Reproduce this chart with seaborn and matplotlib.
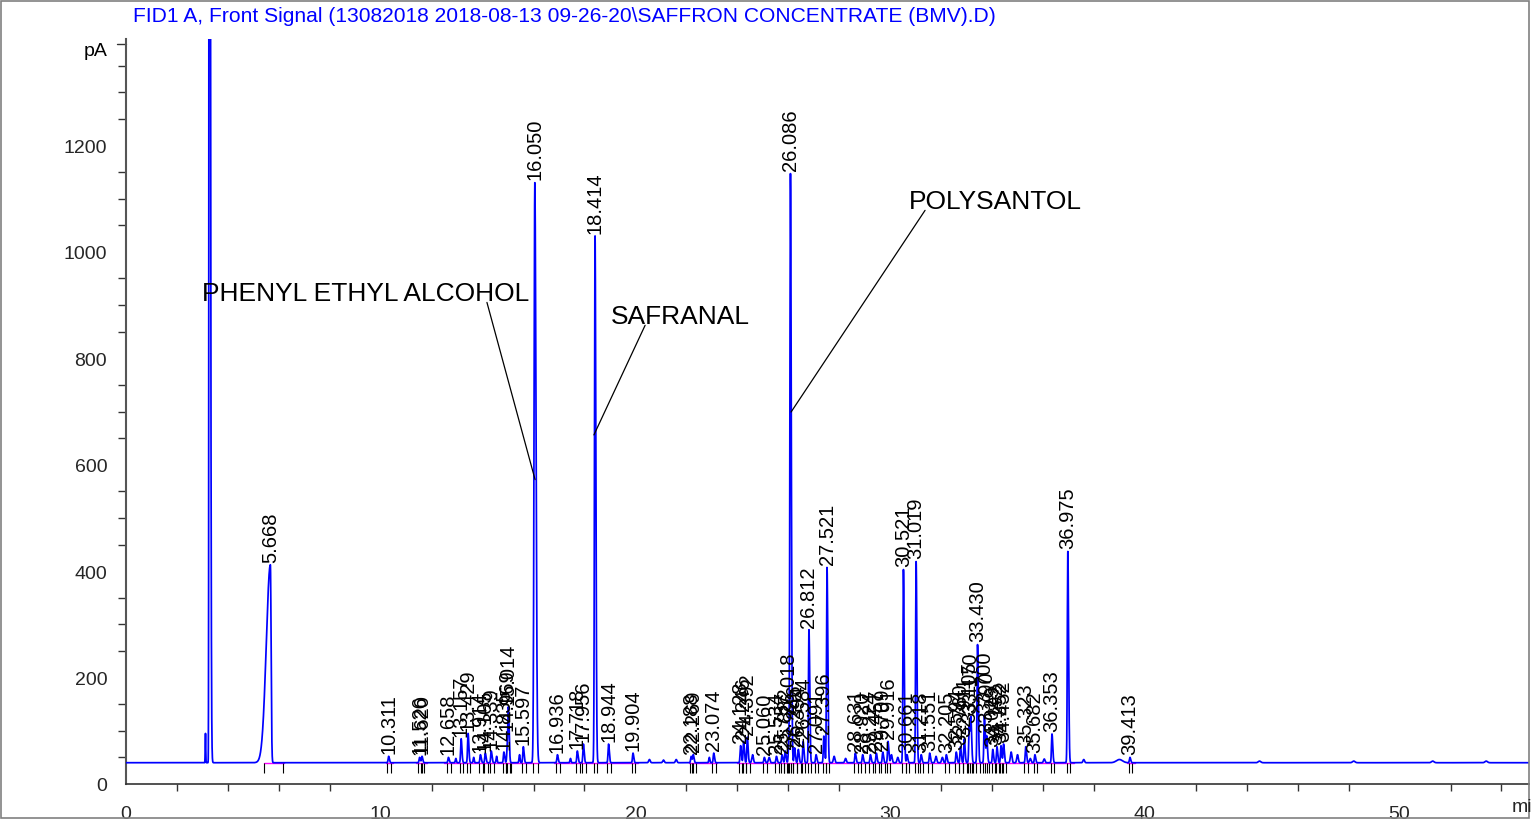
import numpy as np
import pandas as pd
import matplotlib
matplotlib.use("Agg")
import matplotlib.pyplot as plt
import seaborn as sns
from matplotlib.patches import Rectangle

# ---------------- data ----------------
title = r"FID1 A, Front Signal (13082018 2018-08-13 09-26-20\SAFFRON CONCENTRATE (BMV).D)"
baseline = 40.0

# labelled peaks: retention time (min), apex (pA), left / right width (min)
peak_rt = [10.311, 11.526, 11.620, 12.658, 13.157, 13.429, 13.914, 14.105, 14.339,
           14.835, 14.969, 15.014, 15.597, 16.050, 16.936, 17.718, 17.956, 18.414,
           18.944, 19.904, 22.188, 22.269, 23.074, 24.128, 24.246, 24.392, 25.060,
           25.534, 25.757, 25.882, 26.018, 26.086, 26.246, 26.394, 26.584, 26.812,
           27.091, 27.396, 27.521, 28.631, 28.920, 29.224, 29.457, 29.709, 29.916,
           30.521, 30.661, 31.019, 31.218, 31.551, 32.205, 32.594, 32.760, 32.911,
           33.105, 33.170, 33.430, 33.700, 33.790, 34.029, 34.192, 34.352, 34.452,
           35.323, 35.682, 36.353, 36.975, 39.413]
peak_apex = [52, 50, 52, 50, 85, 95, 55, 58, 62,
             60, 70, 135, 70, 1130, 55, 62, 75, 1030,
             75, 58, 52, 55, 58, 72, 80, 88, 50,
             52, 55, 62, 70, 1145, 68, 65, 80, 290,
             55, 90, 407, 58, 55, 55, 58, 60, 80,
             403, 55, 418, 55, 58, 55, 60, 70, 85,
             110, 120, 262, 130, 90, 65, 70, 72, 75,
             70, 55, 94, 437, 50]
peak_wl = [0.02] * len(peak_rt)
peak_wr = [0.03] * len(peak_rt)
peak_label = ["%.3f" % r for r in peak_rt]

# unlabelled features: solvent front, 5.668 peak (labelled below), small bumps
extra_rt = [3.12, 3.27, 5.668, 12.95, 13.65, 14.55, 15.45, 17.45, 20.55, 21.1, 21.6,
            22.9, 24.6, 25.25, 27.8, 28.25, 30.05, 30.3, 31.8, 32.05, 34.75, 35.0,
            35.5, 36.05, 37.6, 39.0, 44.5, 48.2, 51.3, 53.4]
extra_apex = [95, 4000, 412, 48, 50, 52, 55, 48, 46, 45, 46,
              50, 55, 50, 52, 48, 55, 50, 52, 50, 60, 55,
              48, 47, 46, 46, 43, 43, 43, 43]
extra_wl = [0.01, 0.012, 0.16, 0.02, 0.02, 0.02, 0.02, 0.02, 0.03, 0.03, 0.03,
            0.02, 0.03, 0.03, 0.03, 0.03, 0.03, 0.03, 0.03, 0.03, 0.03, 0.03,
            0.03, 0.03, 0.03, 0.12, 0.05, 0.05, 0.05, 0.05]
extra_wr = [0.01, 0.035, 0.028, 0.02, 0.02, 0.02, 0.02, 0.02, 0.03, 0.03, 0.03,
            0.02, 0.03, 0.03, 0.03, 0.03, 0.03, 0.03, 0.03, 0.03, 0.03, 0.03,
            0.03, 0.03, 0.03, 0.12, 0.05, 0.05, 0.05, 0.05]

# annotated compounds: name, text anchor (min, pA), leader line start/end (min, pA)
comp_name = ["PHENYL ETHYL ALCOHOL", "SAFRANAL", "POLYSANTOL"]
comp_text_xy = [(3.0, 922), (19.05, 879), (30.75, 1096)]
comp_line_start = [(14.17, 905), (20.38, 862), (31.37, 1078)]
comp_line_end = [(16.06, 572), (18.37, 656), (26.11, 699)]

x_ticks = [0, 10, 20, 30, 40, 50]
y_ticks = [0, 200, 400, 600, 800, 1000, 1200]

# ---------------- build trace ----------------
all_rt = np.array(peak_rt + extra_rt)
all_h = np.array(peak_apex + extra_apex, dtype=float) - baseline
all_wl = np.array(peak_wl + extra_wl)
all_wr = np.array(peak_wr + extra_wr)
for i, r in enumerate(all_rt):
    if abs(r - 16.050) < 1e-6:
        all_wl[i], all_wr[i] = 0.03, 0.045
    if abs(r - 18.414) < 1e-6 or abs(r - 26.086) < 1e-6:
        all_wl[i], all_wr[i] = 0.022, 0.032

t = np.linspace(0, 55.2, 40000)
sig = np.full_like(t, baseline)
for r, h, wl, wr in zip(all_rt, all_h, all_wl, all_wr):
    w = np.where(t < r, wl, wr)
    sig += h * np.exp(-0.5 * ((t - r) / w) ** 2)
df = pd.DataFrame({"time": t, "signal": sig})

# ---------------- figure ----------------
sns.set_style("white")
plt.rcParams["font.family"] = ["Liberation Sans", "DejaVu Sans"]
fig = plt.figure(figsize=(15.31, 8.20), dpi=100)
ax = fig.add_axes([126 / 1531, 35 / 820, 1403 / 1531, 745 / 820])

# magenta baselines
for a, b in [(5.4, 6.2), (10.2, 10.5), (11.4, 11.8), (12.5, 16.2), (16.8, 20.1),
             (22.1, 23.2), (24.0, 37.2), (39.3, 39.6)]:
    ax.plot([a, b], [baseline - 0.8, baseline - 0.8], color="#ff00ff", lw=1.0, zorder=1)

sns.lineplot(data=df, x="time", y="signal", ax=ax, color="#0000ff", lw=1.25,
             estimator=None, sort=False, zorder=3)

# integration markers
mk = []
for i, r in enumerate(peak_rt):
    mk += [r - 2.5 * all_wl[i], r + 3 * all_wr[i]]
mk += [5.40, 6.16]
ax.vlines(mk, 20, 39, color="black", lw=0.8, zorder=2)

# peak labels
labels_rt = peak_rt + [5.668]
labels_txt = peak_label + ["5.668"]
for r, s in zip(labels_rt, labels_txt):
    m = (t > r - 0.015) & (t < r + 0.015)
    ap = sig[m].max()
    ax.text(r, ap + 6, s, rotation=90, ha="center", va="bottom", fontsize=14.5,
            color="black", zorder=4)

# compound annotations
for name, (tx, ty), (x0, y0), (x1, y1) in zip(comp_name, comp_text_xy, comp_line_start, comp_line_end):
    ax.text(tx, ty, name, ha="left", va="center", fontsize=19, color="black", zorder=5)
    ax.plot([x0, x1], [y0, y1], color="black", lw=0.9, zorder=5)

ax.set_xlim(0, 55.08)
ax.set_ylim(0, 1400)
ax.set_xticks(x_ticks)
ax.set_xticklabels([str(v) for v in x_ticks])
ax.set_xticks(np.arange(0, 55, 2), minor=True)
ax.set_yticks(y_ticks)
ax.set_yticklabels([str(v) for v in y_ticks])
ax.set_yticks(np.arange(0, 1400, 50), minor=True)
ax.set_xlabel("")
ax.set_ylabel("")
ax.tick_params(axis="both", which="major", direction="out", labelsize=14, color="#333333")
ax.tick_params(axis="y", which="major", length=12.5, width=1, pad=1)
ax.tick_params(axis="y", which="minor", length=6, width=1, color="#333333", left=True)
ax.tick_params(axis="x", which="major", length=10, width=1, pad=5)
ax.tick_params(axis="x", which="minor", length=5, width=1, color="#333333", bottom=True)
for s in ["top", "right"]:
    ax.spines[s].set_visible(False)
ax.spines["left"].set_color("#555555")
ax.spines["left"].set_linewidth(1.5)
ax.spines["bottom"].set_color("#333333")
ax.spines["bottom"].set_linewidth(1.2)

# pA unit label with small tick
ax.text(-0.72, 1378, "pA", ha="right", va="center", fontsize=14, color="black")
ax.plot([-0.35, 0], [1390, 1390], color="#333333", lw=1, clip_on=False)

fig.text(1512 / 1531, 1 - 808 / 820, "min", ha="left", va="center", fontsize=14)
fig.text(133 / 1531, 1 - 17 / 820, title, ha="left", va="center", fontsize=15.1,
         color="#0000ff", family=["Liberation Sans Narrow", "Liberation Sans", "DejaVu Sans"])

fig.patches.append(Rectangle((1 / 1531, 1 / 820), 1528 / 1531, 817 / 820, transform=fig.transFigure,
                             fill=False, edgecolor="#808080", lw=1.2))

fig.savefig("out.png", dpi=100)
